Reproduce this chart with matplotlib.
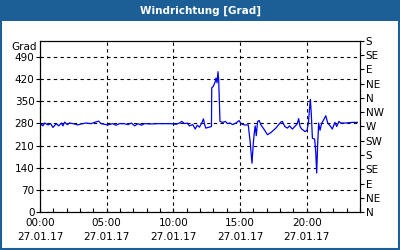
import matplotlib
matplotlib.use('Agg')
import matplotlib.pyplot as plt
from matplotlib.patches import Rectangle

# Windrichtung 27.01.17, Stunden seit 00:00 / Grad
hours = [0, 0.1, 0.22, 0.35, 0.6, 0.8, 0.97, 1.22, 1.4, 1.6, 1.72, 1.85, 2.04, 2.22,
         2.6, 2.84, 3.09, 3.46, 3.83, 4.09, 4.39, 4.58, 4.84, 5.08, 5.46, 5.7, 5.96,
         6.3, 6.6, 6.85, 7.1, 7.35, 7.6, 7.85, 8.35, 8.84, 9.34, 9.84, 10.2, 10.46,
         10.64, 10.84, 11.04, 11.2, 11.46, 11.64, 11.79, 11.96, 12.13, 12.26, 12.33,
         12.43, 12.7, 12.86, 12.88, 13.0, 13.08, 13.15, 13.2, 13.28, 13.35, 13.4,
         13.5, 13.7, 13.9, 14.07, 14.25, 14.45, 14.7, 14.9, 14.95, 15.07, 15.32,
         15.62, 15.77, 15.9, 16.0, 16.07, 16.14, 16.22, 16.32, 16.44, 16.57, 16.82,
         17.06, 17.32, 17.69, 18.06, 18.18, 18.36, 18.56, 18.71, 18.93, 19.11, 19.3,
         19.4, 19.5, 19.63, 19.88, 20.03, 20.13, 20.23, 20.28, 20.35, 20.43, 20.6,
         20.68, 20.75, 20.83, 20.9, 21.0, 21.13, 21.25, 21.43, 21.58, 21.8, 21.92,
         22.12, 22.25, 22.42, 22.55, 22.92, 23.42, 23.8]
grad = [268, 279, 272, 281, 275, 279, 267, 279, 272, 281, 272, 284, 276, 281,
        278, 275, 278, 281, 279, 283, 287, 279, 277, 275, 279, 274, 279,
        279, 276, 281, 272, 279, 274, 279, 278, 279, 279, 279, 277, 281,
        286, 279, 281, 272, 276, 262, 274, 268, 281, 294, 279,
        265, 268, 270, 392, 397, 405, 413, 423, 408, 443, 418,
        286, 283, 286, 279, 281, 276, 281, 288, 288, 279, 275,
        275, 218, 154, 218, 249, 272, 241, 286, 289, 275, 260,
        244, 251, 265, 284, 286, 270, 265, 272, 262, 270, 279,
        295, 270, 262, 254, 258, 281, 334, 355, 307, 233, 230,
        191, 123, 218, 281, 258, 281, 289, 304, 281, 270, 262,
        283, 270, 286, 281, 281, 283, 283]

left_ticks = [0, 70, 140, 210, 280, 350, 420, 490]
right_ticks = [0, 45, 90, 135, 180, 225, 270, 315, 360, 405, 450, 495, 540]
right_labels = ['N', 'NE', 'E', 'SE', 'S', 'SW', 'W', 'NW', 'N', 'NE', 'E', 'SE', 'S']
x_major = [0, 5, 10, 15, 20]
x_labels = ['00:00\n27.01.17', '05:00\n27.01.17', '10:00\n27.01.17',
            '15:00\n27.01.17', '20:00\n27.01.17']

blue_bar = '#1b5f96'
fs = 7.5

fig = plt.figure(figsize=(4, 2.5), dpi=100)
fig.patch.set_facecolor('white')

# title bar + frame
fig.patches.append(Rectangle((0, 0.918), 1, 0.082, transform=fig.transFigure,
                             facecolor=blue_bar, edgecolor='none', zorder=0))
fig.patches.append(Rectangle((0.002, 0.003), 0.996, 0.994, transform=fig.transFigure,
                             facecolor='none', edgecolor=blue_bar, lw=1.5, zorder=0))
fig.text(0.5, 0.958, 'Windrichtung [Grad]', color='white', fontsize=fs,
         fontweight='bold', ha='center', va='center')

ax = fig.add_axes([0.1, 0.152, 0.8, 0.684])
ax.plot(hours, grad, color='#0000ee', lw=0.9)
ax.set_xlim(0, 24)
ax.set_ylim(0, 540)

ax.set_xticks(x_major)
ax.set_xticklabels(x_labels, fontsize=fs, linespacing=1.6)
ax.set_xticks(range(0, 25), minor=True)
ax.tick_params(axis='x', which='both', direction='in', length=3, width=0.8, pad=4)
ax.set_yticks(left_ticks)
ax.set_yticklabels([str(v) for v in left_ticks], fontsize=fs)
ax.tick_params(axis='y', direction='out', length=3, width=0.8, pad=1)
ax.grid(True, color='black', linestyle=(0, (3, 3)), lw=0.8)
for s in ax.spines.values():
    s.set_linewidth(0.8)

ax2 = ax.twinx()
ax2.set_ylim(0, 540)
ax2.set_yticks(right_ticks)
ax2.set_yticklabels(right_labels, fontsize=fs)
ax2.tick_params(axis='y', direction='out', length=3, width=0.8, pad=1)

fig.text(0.092, 0.81, 'Grad', fontsize=fs, ha='right', va='center')

fig.savefig('out.png', dpi=100)
